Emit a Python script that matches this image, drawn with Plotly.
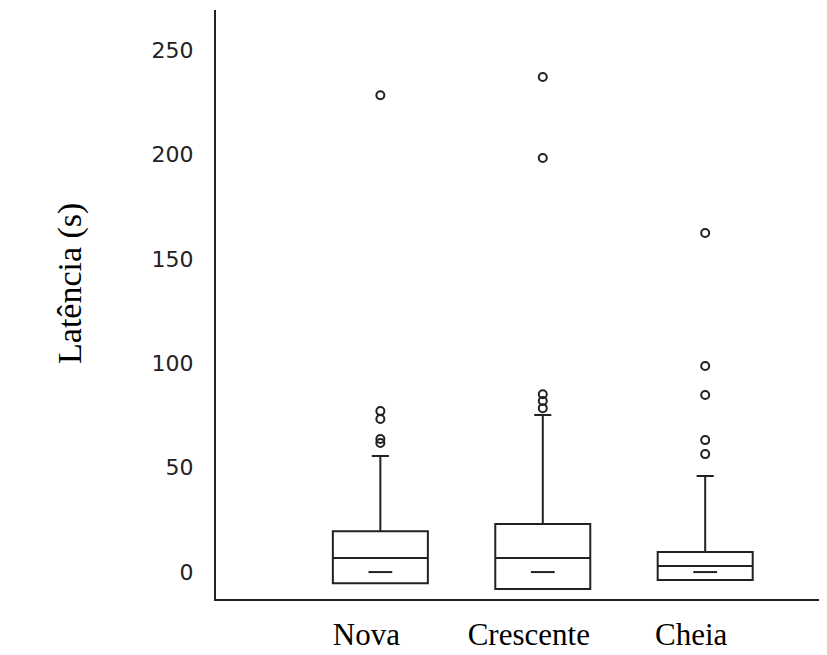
import plotly.graph_objects as go

# ---- data ----
categories = ["Nova", "Crescente", "Cheia"]
q1 = [-5.3, -8.1, -3.8]
median = [6.7, 6.7, 2.9]
q3 = [19.6, 23.0, 9.6]
upper_whisker = [55.6, 75.2, 46.0]
marker_values = [0.0, 0.0, 0.0]

outliers_nova = [61.8, 63.7, 73.3, 77.1, 228.4]
outliers_crescente = [78.5, 81.9, 85.2, 198.3, 237.1]
outliers_cheia = [56.5, 63.2, 84.8, 98.7, 162.4]

y_tick_values = [0, 50, 100, 150, 200, 250]
y_tick_labels = ["0", "50", "100", "150", "200", "250"]
y_title = "Latência (s)"

INK = "#222222"

fig = go.Figure()

fig.add_trace(go.Box(
    x=categories,
    q1=q1, median=median, q3=q3,
    lowerfence=q1, upperfence=upper_whisker,
    boxpoints=False,
    fillcolor="white",
    line=dict(color=INK, width=2),
    width=0.585,
    whiskerwidth=0.18,
    showlegend=False,
    hoverinfo="skip",
))

fig.add_trace(go.Scatter(
    x=categories, y=marker_values, mode="markers",
    marker=dict(symbol="line-ew", size=17, line=dict(color=INK, width=2)),
    showlegend=False, hoverinfo="skip",
))

out_x = ([categories[0]] * len(outliers_nova)
         + [categories[1]] * len(outliers_crescente)
         + [categories[2]] * len(outliers_cheia))
out_y = outliers_nova + outliers_crescente + outliers_cheia
fig.add_trace(go.Scatter(
    x=out_x, y=out_y, mode="markers",
    marker=dict(symbol="circle-open", size=8, color=INK, line=dict(color=INK, width=2)),
    showlegend=False, hoverinfo="skip",
))

# The page body has an 8px default margin, so the figure is 8px smaller
# and the margins are reduced accordingly.
fig.update_layout(
    width=819, height=647,
    margin=dict(l=208, r=0, t=2, b=56, autoexpand=False),
    paper_bgcolor="white", plot_bgcolor="white",
    showlegend=False,
    annotations=[dict(
        text=y_title, textangle=-90,
        xref="paper", yref="paper", x=-0.239, y=0.5365,
        xanchor="center", yanchor="middle", showarrow=False,
        font=dict(family="Liberation Serif", size=34, color="black"),
    )],
)

fig.update_xaxes(
    type="category",
    categoryorder="array", categoryarray=categories,
    range=[-1.012, 2.75],
    showline=True, linecolor=INK, linewidth=2,
    showgrid=False, zeroline=False, ticks="",
    tickfont=dict(family="Liberation Serif", size=31, color="black"),
    ticklabelstandoff=7,
    ticklabelshift=-14,
)

fig.update_yaxes(
    range=[-12.9, 269.2],
    tickvals=y_tick_values, ticktext=y_tick_labels,
    showline=True, linecolor=INK, linewidth=2,
    showgrid=False, zeroline=False, ticks="",
    tickfont=dict(family="DejaVu Sans", size=22, color="#222222"),
    ticklabelstandoff=16,
)

fig.write_html("out.html")
